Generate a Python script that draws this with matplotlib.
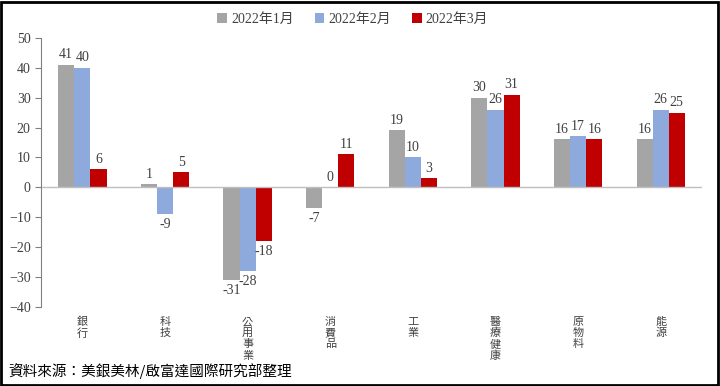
import numpy as np
import matplotlib.pyplot as plt
from matplotlib.patches import Rectangle

plt.rcParams['font.family'] = ['Liberation Serif', 'Noto Sans CJK TC', 'DejaVu Sans']

categories = ['銀行', '科技', '公用事業', '消費品', '工業', '醫療健康', '原物料', '能源']
series_names = ['2022年1月', '2022年2月', '2022年3月']
jan = [41, 1, -31, -7, 19, 30, 16, 16]
feb = [40, -9, -28, 0, 10, 26, 17, 26]
mar = [6, 5, -18, 11, 3, 31, 16, 25]
colors = ['#A5A5A5', '#8EA9DB', '#C00000']

fig = plt.figure(figsize=(7.2, 3.86), dpi=100)
ax = fig.add_axes([0.057, 0.205, 0.918, 0.697])

x = np.arange(len(categories))
w = 0.195
for i, (vals, name, c) in enumerate(zip([jan, feb, mar], series_names, colors)):
    pos = x + (i - 1) * w
    ax.bar(pos, vals, width=w, color=c, label=name)
    for px, v in zip(pos, vals):
        if v >= 0:
            ax.text(px, v + 1.2, str(v), ha='center', va='bottom', fontsize=10, color='#404040')
        else:
            ax.text(px, v - 1.2, str(v), ha='center', va='top', fontsize=10, color='#404040')

ax.axhline(0, color='#BFBFBF', lw=1)
ax.set_xlim(-0.5, len(categories) - 0.5)
ax.set_ylim(-40, 50)
ax.set_yticks(range(-40, 51, 10))
ax.tick_params(axis='y', labelsize=10, colors='#404040', length=4, color='#808080')
ax.set_xticks([])
for s in ['top', 'right', 'bottom']:
    ax.spines[s].set_visible(False)
ax.spines['left'].set_color('#808080')

# vertical category labels, one character per line
for xi, cat in zip(x, categories):
    for k, ch in enumerate(cat):
        ax.annotate(ch, xy=(xi, 0), xycoords=('data', 'axes fraction'),
                    xytext=(0, -15 - 11.3 * k), textcoords='offset pixels',
                    ha='center', va='center', fontsize=8, color='#404040',
                    family=['Noto Sans CJK TC'])

fig.legend(loc='upper center', bbox_to_anchor=(0.49, 1.0), ncol=3, frameon=False,
           fontsize=10, handlelength=0.7, handleheight=0.7, handletextpad=0.3,
           columnspacing=1.5, labelcolor='#404040')

fig.text(0.011, 0.04, '資料來源：美銀美林/啟富達國際研究部整理', fontsize=10.5,
         family=['Noto Sans CJK TC'], color='black', va='center')

fig.patches.append(Rectangle((0.002, 0.003), 0.995, 0.993, transform=fig.transFigure,
                             fill=False, edgecolor='black', lw=2))

fig.savefig('out.png', dpi=100)
